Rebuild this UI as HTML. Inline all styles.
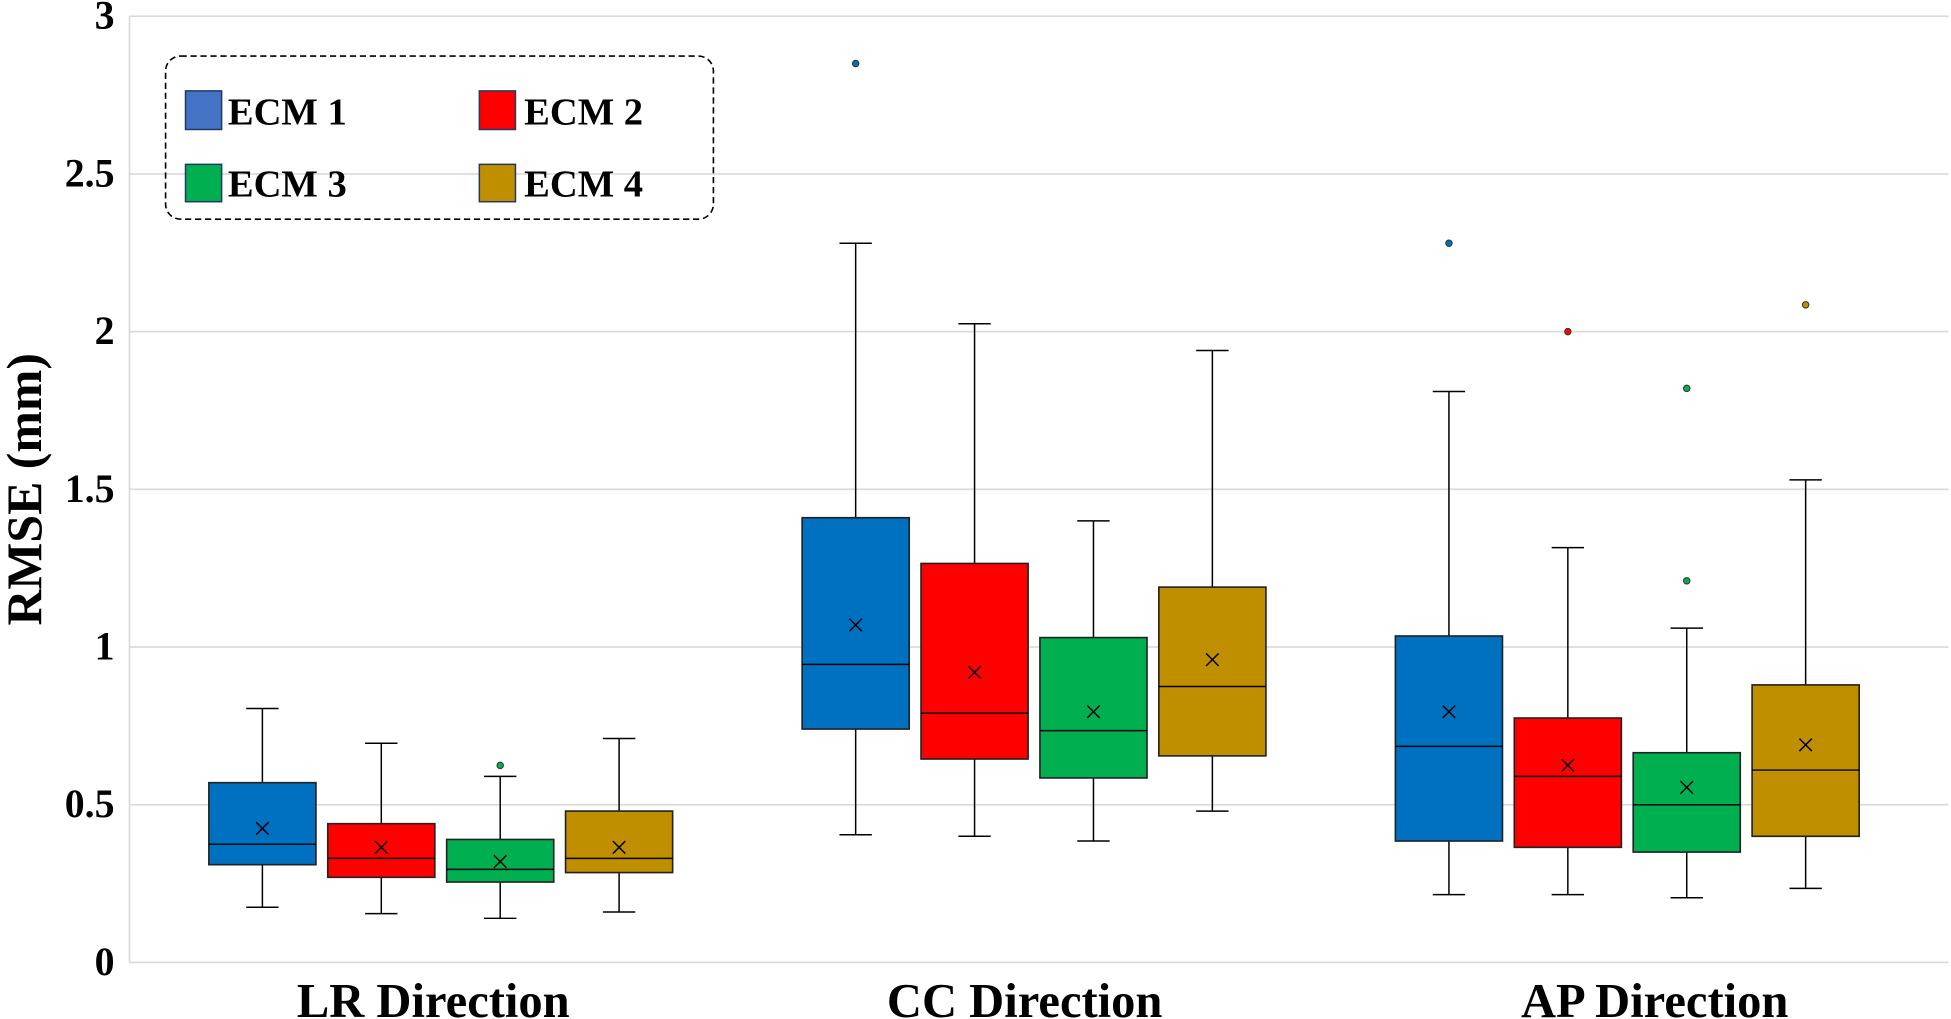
<!DOCTYPE html>
<html><head><meta charset="utf-8"><style>
html,body{margin:0;padding:0;background:#fff;}
svg{display:block;}
text{font-family:"Liberation Serif",serif;font-weight:bold;fill:#000;}
</style></head><body>
<svg id="chart" width="1951" height="1019" viewBox="0 0 1567 818.4" preserveAspectRatio="none" xmlns="http://www.w3.org/2000/svg">
<g id="grid"></g>
<g id="yticks"></g>
<text transform="translate(33,393) rotate(-90)" text-anchor="middle" font-size="40">RMSE (mm)</text>
<g id="xlabels"></g>
<g id="boxes"></g>
<g>
<rect x="133" y="45" width="440" height="131" rx="12" fill="none" stroke="#000" stroke-width="1.3" stroke-dasharray="5,3"/>
<g><rect x="149" y="73" width="29" height="31" fill="#4472C4" stroke="#1F3864" stroke-width="1.2"/><text x="183" y="100" font-size="31">ECM 1</text></g>
<g><rect x="385" y="73" width="29" height="31" fill="#FF0000" stroke="#1F3864" stroke-width="1.2"/><text x="421" y="100" font-size="31">ECM 2</text></g>
<g><rect x="149" y="132" width="29" height="30" fill="#00B050" stroke="#1F3864" stroke-width="1.2"/><text x="183" y="158" font-size="31">ECM 3</text></g>
<g><rect x="385" y="132" width="29" height="30" fill="#BF8F00" stroke="#1F3864" stroke-width="1.2"/><text x="421" y="158" font-size="31">ECM 4</text></g>
</g>
</svg>
<script>
const categories = ["LR Direction","CC Direction","AP Direction"];
const seriesNames = ["ECM 1","ECM 2","ECM 3","ECM 4"];
const yTicks = [0,0.5,1,1.5,2,2.5,3];
const yTickLabels = ["0","0.5","1","1.5","2","2.5","3"];
// [category][series]
const whiskerMin = [[0.175,0.155,0.14,0.16],[0.405,0.40,0.385,0.48],[0.215,0.215,0.205,0.235]];
const q1 = [[0.31,0.27,0.255,0.285],[0.74,0.645,0.585,0.655],[0.385,0.365,0.35,0.40]];
const median = [[0.375,0.33,0.295,0.33],[0.945,0.79,0.735,0.875],[0.685,0.59,0.50,0.61]];
const q3 = [[0.57,0.44,0.39,0.48],[1.41,1.265,1.03,1.19],[1.035,0.775,0.665,0.88]];
const whiskerMax = [[0.805,0.695,0.59,0.71],[2.28,2.025,1.40,1.94],[1.81,1.315,1.06,1.53]];
const means = [[0.425,0.365,0.32,0.365],[1.07,0.92,0.795,0.96],[0.795,0.625,0.555,0.69]];
const outliers = [[[],[],[0.625],[]],[[2.85],[],[],[]],[[2.28],[2.0],[1.82,1.21],[2.085]]];
const colors = ["#0070C0","#FF0000","#00B050","#BF8F00"];

const NS="http://www.w3.org/2000/svg";
const y0=773, yTop=13, plotL=104, plotR=1565;
const labelX=[348,823,1329];
function yScale(v){return y0-(v/3)*(y0-yTop);}
function groupX(i){return 354+476.5*i;}
function boxX(i,j){return groupX(i)+(j-1.5)*95.5;}
function mk(tag,attrs,parent){const e=document.createElementNS(NS,tag);for(const k in attrs)e.setAttribute(k,attrs[k]);parent.appendChild(e);return e;}

const grid=document.getElementById('grid');
yTicks.forEach((t,k)=>{
  const g=mk('line',{x1:plotL,x2:plotR,y1:yScale(t),y2:yScale(t),stroke:'#d9d9d9','stroke-width':1.3},grid);
  
  
});
const ax=mk('line',{x1:plotL,x2:plotL,y1:yTop,y2:y0,stroke:'#d9d9d9','stroke-width':1.3},grid);



const yt=document.getElementById('yticks');
yTicks.forEach((t,k)=>{
  const e=mk('text',{x:92,y:yScale(t)+10,'text-anchor':'end','font-size':32},yt);
  e.textContent=yTickLabels[k];
  
  
});
const xl=document.getElementById('xlabels');
categories.forEach((c,i)=>{
  const e=mk('text',{x:labelX[i],y:817,'text-anchor':'middle','font-size':39},xl);
  e.textContent=c;
  
  
});

const bx=document.getElementById('boxes');
const bw=86, cap=26;
categories.forEach((c,i)=>{
  seriesNames.forEach((s,j)=>{
    const cx=boxX(i,j);
    const g=mk('g',{},bx);
    
    
    const st={stroke:'#000','stroke-width':1.2};
    mk('line',Object.assign({x1:cx,x2:cx,y1:yScale(whiskerMax[i][j]),y2:yScale(q3[i][j])},st),g);
    mk('line',Object.assign({x1:cx,x2:cx,y1:yScale(q1[i][j]),y2:yScale(whiskerMin[i][j])},st),g);
    mk('line',Object.assign({x1:cx-cap/2,x2:cx+cap/2,y1:yScale(whiskerMax[i][j]),y2:yScale(whiskerMax[i][j])},st),g);
    mk('line',Object.assign({x1:cx-cap/2,x2:cx+cap/2,y1:yScale(whiskerMin[i][j]),y2:yScale(whiskerMin[i][j])},st),g);
    mk('rect',{x:cx-bw/2,y:yScale(q3[i][j]),width:bw,height:yScale(q1[i][j])-yScale(q3[i][j]),fill:colors[j],stroke:'#222','stroke-width':1.3},g);
    mk('line',Object.assign({x1:cx-bw/2,x2:cx+bw/2,y1:yScale(median[i][j]),y2:yScale(median[i][j])},st),g);
    const my=yScale(means[i][j]), d=5;
    mk('path',{d:`M${cx-d},${my-d}L${cx+d},${my+d}M${cx+d},${my-d}L${cx-d},${my+d}`,stroke:'#000','stroke-width':1.2,fill:'none'},g);
    outliers[i][j].forEach(o=>{
      const p=mk('circle',{cx:cx,cy:yScale(o),r:2.6,fill:colors[j],stroke:'#333','stroke-width':0.8},g);
      
      
    });
  });
});
</script>
</body></html>
